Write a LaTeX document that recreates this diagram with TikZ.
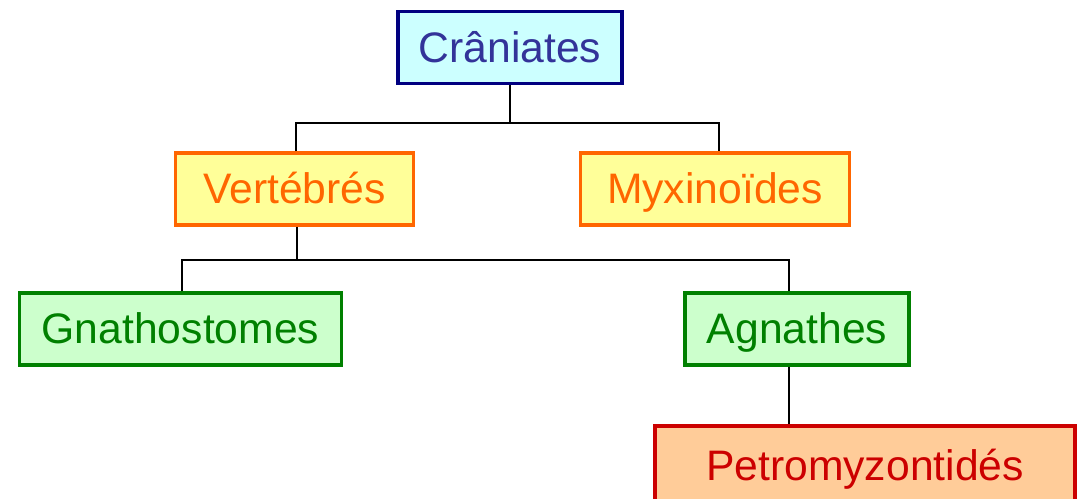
\documentclass[tikz,border=0pt]{standalone}
\usepackage{fontspec}
\setmainfont{Liberation Sans}
\usepackage{tikz}
\definecolor{navyline}{HTML}{000080}
\definecolor{navytext}{HTML}{333399}
\definecolor{cyanfill}{HTML}{CCFFFF}
\definecolor{orangeline}{HTML}{FF6600}
\definecolor{yellowfill}{HTML}{FFFF99}
\definecolor{greenline}{HTML}{008000}
\definecolor{greenfill}{HTML}{CCFFCC}
\definecolor{redline}{HTML}{CC0000}
\definecolor{peachfill}{HTML}{FFCC99}

\begin{document}
\begin{tikzpicture}[x=0.75pt, y=-0.75pt,
    box/.style={draw, line width=2.4pt, minimum height=54pt, inner sep=0pt,
      text height=29pt, text depth=7pt,
      font=\fontsize{32}{38}\selectfont},
    root/.style={box, draw=navyline, fill=cyanfill, text=navytext},
    clade/.style={box, draw=orangeline, fill=yellowfill, text=orangeline},
    group/.style={box, draw=greenline, fill=greenfill, text=greenline},
    leaf/.style={box, draw=redline, fill=peachfill, text=redline},
    link/.style={draw, line width=1.5pt}]
  \useasboundingbox (0,0) rectangle (1079,499);
  \node[root, minimum width=168pt] (cran) at (510,47.5) {Crâniates};
  \node[clade, minimum width=179pt] (vert) at (294.5,189) {Vertébrés};
  \node[clade, minimum width=202pt] (myx) at (715,189) {Myxinoïdes};
  \node[group, minimum width=242pt] (gnath) at (180.5,329) {Gnathostomes};
  \node[group, minimum width=168pt] (agn) at (797,329) {Agnathes};
  \node[leaf, minimum width=315pt, minimum height=60pt] (petro) at (865,466) {Petromyzontidés};
  % branches
  \draw[link] (cran.south) -- ++(0,38) coordinate (j1);
  \draw[link] ([xshift=1pt]vert.north) |- (j1) -| ([xshift=3pt]myx.north);
  \draw[link] ([xshift=2pt]vert.south) -- ++(0,33) coordinate (j2);
  \draw[link] ([xshift=1pt]gnath.north) |- (j2) -| ([xshift=-6pt]agn.north);
  \draw[link] ([xshift=-6pt]agn.south) -- ([xshift=-6pt]agn.south |- petro.north);
\end{tikzpicture}
\end{document}
